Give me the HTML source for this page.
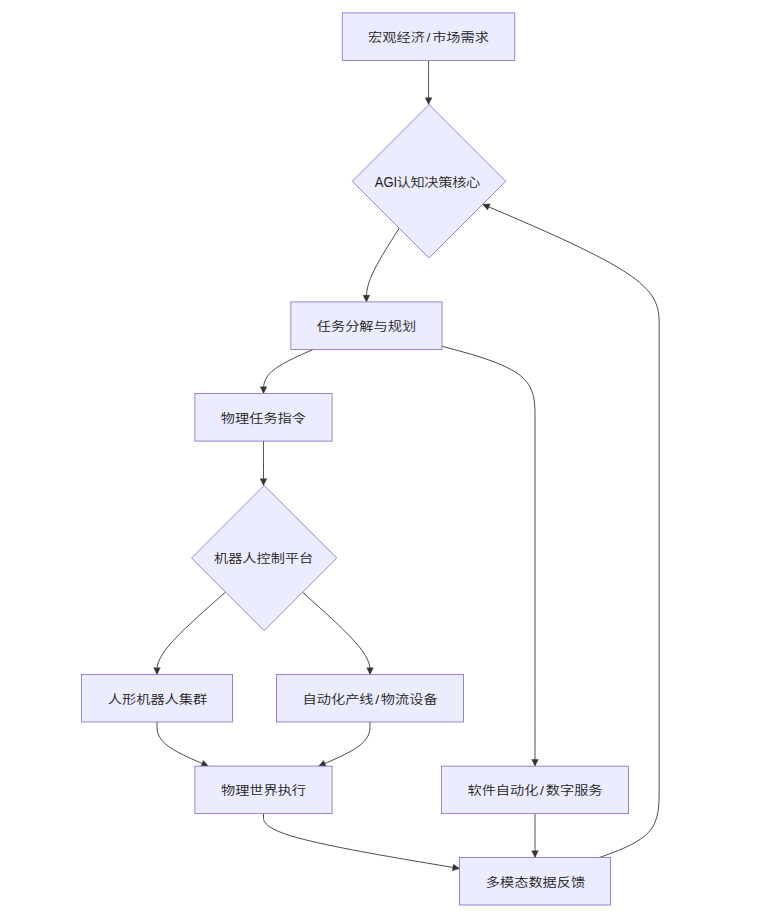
<!DOCTYPE html>
<html lang="zh-CN">
<head>
<meta charset="utf-8">
<title>流程图</title>
<style>
html,body{margin:0;padding:0;background:#ffffff;}
body{width:760px;height:911px;overflow:hidden;}
svg{display:block;}
.lbl{font-family:"Liberation Sans","Noto Sans CJK SC",sans-serif;font-size:14.2px;fill:#1c1c1c;text-anchor:middle;font-weight:350;letter-spacing:0px;}
.node{fill:#ECECFF;stroke:#9370DB;stroke-width:0.88;}
.edge{fill:none;stroke:#333333;stroke-width:0.88;}
</style>
</head>
<body>
<svg width="760" height="911" viewBox="0 0 760 911">
<g class="edges">
<path class="edge" d="M428.55,60.5L428.55,64.17C428.55,67.83 428.55,75.17 428.55,82.5C428.55,89.83 428.55,97.17 428.55,100.83L428.55,104.5"/>
<polygon points="428.55,104.5 425.25,97.8 431.85,97.8" fill="#333333" stroke="#333333" stroke-width="0.4"/>
<path class="edge" d="M399.22,228.22L393.75,236.84C388.29,245.46 377.36,262.71 371.89,274.99C366.43,287.27 366.43,294.58 366.43,298.24L366.43,301.9"/>
<polygon points="366.43,301.9 363.12,295.2 369.73,295.2" fill="#333333" stroke="#333333" stroke-width="0.4"/>
<path class="edge" d="M312.94,349.5L304.7,353.17C296.46,356.83 279.98,364.17 271.74,371.5C263.5,378.83 263.5,386.17 263.5,389.83L263.5,393.5"/>
<polygon points="263.5,393.5 260.2,386.8 266.8,386.8" fill="#333333" stroke="#333333" stroke-width="0.4"/>
<path class="edge" d="M442,346.23L457.5,350.44C473,354.66 504,363.08 519.5,374.92C535,386.77 535,402.03 535,417.32C535,432.61 535,447.93 535,471.38C535,494.82 535,526.41 535,557.97C535,589.52 535,621.04 535,644.42C535,667.79 535,683.02 535,698.27C535,713.52 535,728.78 535,740.09C535,751.4 535,758.75 535,762.43L535,766.1"/>
<polygon points="535,766.1 531.7,759.4 538.3,759.4" fill="#333333" stroke="#333333" stroke-width="0.4"/>
<path class="edge" d="M263.5,441.1L263.5,444.79C263.5,448.48 263.5,455.86 263.5,463.24C263.5,470.62 263.5,478 263.5,481.69L263.5,485.38"/>
<polygon points="263.5,485.38 260.2,478.68 266.8,478.68" fill="#333333" stroke="#333333" stroke-width="0.4"/>
<path class="edge" d="M225.55,592.05L214.13,602.14C202.7,612.22 179.85,632.39 168.43,646.13C157,659.88 157,667.19 157,670.84L157,674.5"/>
<polygon points="157,674.5 153.7,667.8 160.3,667.8" fill="#333333" stroke="#333333" stroke-width="0.4"/>
<path class="edge" d="M302.49,592.26L313.74,602.31C324.99,612.36 347.5,632.46 358.75,646.17C370,659.88 370,667.19 370,670.84L370,674.5"/>
<polygon points="370,674.5 366.7,667.8 373.3,667.8" fill="#333333" stroke="#333333" stroke-width="0.4"/>
<path class="edge" d="M157,722L157,725.68C157,729.35 157,736.7 165.55,744.05C174.09,751.4 191.18,758.75 199.73,762.43L208.27,766.1"/>
<polygon points="208.27,766.1 200.81,766.48 203.42,760.42" fill="#333333" stroke="#333333" stroke-width="0.4"/>
<path class="edge" d="M370,722L370,725.68C370,729.35 370,736.7 361.45,744.05C352.91,751.4 335.82,758.75 327.27,762.43L318.73,766.1"/>
<polygon points="318.73,766.1 323.58,760.42 326.19,766.48" fill="#333333" stroke="#333333" stroke-width="0.4"/>
<path class="edge" d="M263.5,813.6L263.5,817.26C263.5,820.92 263.5,828.23 296.17,837.39C328.83,846.55 394.17,857.54 426.83,863.04L459.5,868.54"/>
<polygon points="459.5,868.54 452.35,870.68 453.44,864.18" fill="#333333" stroke="#333333" stroke-width="0.4"/>
<path class="edge" d="M535,813.6L535,817.26C535,820.92 535,828.23 535,835.55C535,842.87 535,850.18 535,853.84L535,857.5"/>
<polygon points="535,857.5 531.7,850.8 538.3,850.8" fill="#333333" stroke="#333333" stroke-width="0.4"/>
<path class="edge" d="M599.52,857.5L609.46,853.84C619.4,850.18 639.27,842.87 649.21,831.59C659.15,820.32 659.15,805.08 659.15,789.83C659.15,774.58 659.15,759.32 659.15,744.05C659.15,728.78 659.15,713.52 659.15,698.27C659.15,683.02 659.15,667.79 659.15,644.42C659.15,621.04 659.15,589.52 659.15,557.97C659.15,526.41 659.15,494.82 659.15,471.38C659.15,447.93 659.15,432.61 659.15,417.32C659.15,402.03 659.15,386.77 659.15,371.5C659.15,356.23 659.15,340.97 659.15,325.71C659.15,310.45 659.15,295.2 629.74,274.96C600.34,254.73 541.53,229.51 512.12,216.9L482.71,204.29"/>
<polygon points="482.71,204.29 490.17,203.89 487.57,209.96" fill="#333333" stroke="#333333" stroke-width="0.4"/>
</g>
<g class="nodes">
<rect class="node" x="342.3" y="12.9" width="172.45" height="47.6"/>
<text class="lbl" transform="translate(428.52,41.9) scale(1,0.87)">宏观经济<tspan dx="1.7">/</tspan><tspan dx="1.7">市场需求</tspan></text>
<rect class="node" x="290.85" y="301.9" width="151.15" height="47.6"/>
<text class="lbl" transform="translate(366.43,330.9) scale(1,0.87)">任务分解与规划</text>
<rect class="node" x="194.9" y="393.5" width="137.2" height="47.6"/>
<text class="lbl" transform="translate(263.4,422.5) scale(1,0.87)">物理任务指令</text>
<rect class="node" x="81.5" y="674.5" width="151" height="47.5"/>
<text class="lbl" transform="translate(157.5,704.45) scale(1,0.87)">人形机器人集群</text>
<rect class="node" x="276.5" y="674.5" width="187" height="47.5"/>
<text class="lbl" transform="translate(370.1,704.35) scale(1,0.87)">自动化产线<tspan dx="1.7">/</tspan><tspan dx="1.7">物流设备</tspan></text>
<rect class="node" x="194.9" y="766.1" width="137.2" height="47.5"/>
<text class="lbl" transform="translate(263.5,795.05) scale(1,0.87)">物理世界执行</text>
<rect class="node" x="441.5" y="766.15" width="187" height="47.45"/>
<text class="lbl" transform="translate(535,795.08) scale(1,0.87)">软件自动化<tspan dx="1.7">/</tspan><tspan dx="1.7">数字服务</tspan></text>
<rect class="node" x="459.5" y="857.5" width="151" height="47.5"/>
<text class="lbl" transform="translate(535.5,887.45) scale(1,0.87)">多模态数据反馈</text>
<polygon class="node" points="429,104.5 505.75,181.25 429,258 352.25,181.25"/>
<text class="lbl" style="text-anchor:start" transform="translate(374.8,187.25) scale(1,0.87)"><tspan font-size="16.2" textLength="22.4" lengthAdjust="spacingAndGlyphs">AGI</tspan><tspan dx="-0.6" letter-spacing="-0.3">认知决策核心</tspan></text>
<polygon class="node" points="264.12,485.38 336.75,558 264.12,630.62 191.5,558"/>
<text class="lbl" transform="translate(263.62,562.9) scale(1,0.87)">机器人控制平台</text>
</g>
</svg>
</body>
</html>
